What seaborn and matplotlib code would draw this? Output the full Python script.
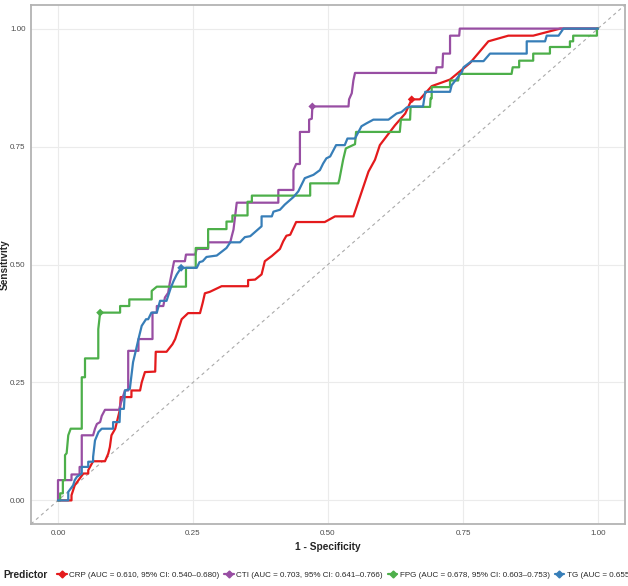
import matplotlib
matplotlib.use("Agg")
import matplotlib.pyplot as plt
from matplotlib.lines import Line2D
import seaborn as sns
import pandas as pd

# ROC curve vertices (1 - specificity, sensitivity)
crp_roc = [(0, 0), (0.025, 0), (0.025, 0.011), (0.031, 0.032), (0.047, 0.057), (0.056, 0.057),
           (0.056, 0.064), (0.065, 0.083), (0.087, 0.083), (0.093, 0.099), (0.096, 0.113),
           (0.099, 0.138), (0.106, 0.152), (0.115, 0.194), (0.116, 0.219), (0.136, 0.219),
           (0.136, 0.233), (0.152, 0.233), (0.155, 0.250), (0.161, 0.272), (0.180, 0.273),
           (0.181, 0.315), (0.201, 0.315), (0.212, 0.331), (0.217, 0.342), (0.223, 0.363),
           (0.229, 0.384), (0.241, 0.397), (0.263, 0.397), (0.268, 0.419), (0.272, 0.439),
           (0.281, 0.442), (0.303, 0.454), (0.352, 0.454), (0.352, 0.467), (0.365, 0.468),
           (0.377, 0.479), (0.383, 0.507), (0.396, 0.518), (0.411, 0.533), (0.417, 0.549),
           (0.423, 0.561), (0.430, 0.563), (0.441, 0.590), (0.494, 0.590), (0.513, 0.602),
           (0.547, 0.602), (0.575, 0.697), (0.587, 0.722), (0.596, 0.753), (0.624, 0.795),
           (0.643, 0.820), (0.655, 0.850), (0.670, 0.850), (0.692, 0.878), (0.726, 0.892),
           (0.763, 0.927), (0.797, 0.973), (0.834, 0.985), (0.880, 0.985), (0.930, 1.0), (1.0, 1.0)]

cti_roc = [(0, 0), (0, 0.043), (0.025, 0.043), (0.025, 0.055), (0.040, 0.055), (0.040, 0.071),
           (0.044, 0.071), (0.044, 0.138), (0.065, 0.138), (0.0685, 0.152), (0.072, 0.162),
           (0.078, 0.166), (0.081, 0.179), (0.087, 0.192), (0.113, 0.192), (0.115, 0.201),
           (0.124, 0.233), (0.130, 0.233), (0.130, 0.317), (0.149, 0.317), (0.149, 0.342),
           (0.175, 0.342), (0.175, 0.398), (0.183, 0.398), (0.183, 0.412), (0.195, 0.412),
           (0.198, 0.430), (0.204, 0.440), (0.207, 0.461), (0.215, 0.507), (0.235, 0.507),
           (0.237, 0.521), (0.254, 0.521), (0.257, 0.533), (0.278, 0.533), (0.278, 0.547),
           (0.319, 0.547), (0.322, 0.561), (0.325, 0.574), (0.331, 0.631), (0.408, 0.631),
           (0.408, 0.658), (0.436, 0.658), (0.436, 0.700), (0.441, 0.713), (0.448, 0.713),
           (0.448, 0.781), (0.465, 0.781), (0.465, 0.807), (0.470, 0.809), (0.471, 0.835),
           (0.538, 0.835), (0.539, 0.850), (0.544, 0.863), (0.547, 0.890), (0.550, 0.906),
           (0.700, 0.906), (0.701, 0.918), (0.712, 0.918), (0.713, 0.947), (0.726, 0.947),
           (0.726, 0.985), (0.743, 0.985), (0.744, 1.0), (1.0, 1.0)]

fpg_roc = [(0, 0), (0.004, 0), (0.004, 0.015), (0.009, 0.015), (0.009, 0.043), (0.013, 0.043),
           (0.013, 0.096), (0.016, 0.100), (0.019, 0.138), (0.0235, 0.152), (0.044, 0.152),
           (0.044, 0.261), (0.050, 0.261), (0.050, 0.301), (0.0746, 0.301), (0.0746, 0.363),
           (0.078, 0.398), (0.115, 0.398), (0.115, 0.412), (0.132, 0.412), (0.132, 0.426),
           (0.1735, 0.426), (0.1735, 0.444), (0.183, 0.453), (0.237, 0.453), (0.237, 0.493),
           (0.255, 0.493), (0.255, 0.535), (0.278, 0.535), (0.278, 0.575), (0.312, 0.575),
           (0.312, 0.591), (0.323, 0.591), (0.323, 0.604), (0.351, 0.604), (0.351, 0.633),
           (0.359, 0.633), (0.359, 0.646), (0.467, 0.646), (0.467, 0.672), (0.519, 0.672),
           (0.521, 0.680), (0.528, 0.722), (0.533, 0.746), (0.550, 0.755), (0.552, 0.781),
           (0.633, 0.781), (0.635, 0.807), (0.652, 0.807), (0.653, 0.834), (0.689, 0.834),
           (0.690, 0.852), (0.692, 0.852), (0.692, 0.876), (0.726, 0.876), (0.726, 0.890),
           (0.741, 0.890), (0.743, 0.904), (0.840, 0.904), (0.842, 0.918), (0.854, 0.918),
           (0.854, 0.932), (0.880, 0.932), (0.880, 0.947), (0.911, 0.947), (0.911, 0.961),
           (0.948, 0.961), (0.948, 0.973), (0.954, 0.973), (0.954, 0.985), (0.998, 0.985),
           (0.998, 1.0), (1.0, 1.0)]

tg_roc = [(0, 0), (0.019, 0), (0.019, 0.018), (0.028, 0.032), (0.031, 0.043), (0.035, 0.050),
          (0.044, 0.057), (0.044, 0.071), (0.056, 0.071), (0.056, 0.082), (0.065, 0.082),
          (0.065, 0.092), (0.0685, 0.127), (0.075, 0.145), (0.081, 0.152), (0.102, 0.152),
          (0.102, 0.166), (0.114, 0.166), (0.115, 0.194), (0.122, 0.194), (0.124, 0.233),
          (0.133, 0.236), (0.139, 0.293), (0.144, 0.317), (0.149, 0.342), (0.155, 0.370),
          (0.163, 0.384), (0.167, 0.384), (0.173, 0.398), (0.183, 0.398), (0.189, 0.423),
          (0.201, 0.423), (0.209, 0.451), (0.214, 0.465), (0.220, 0.479), (0.228, 0.493),
          (0.257, 0.493), (0.262, 0.505), (0.268, 0.507), (0.275, 0.516), (0.294, 0.519),
          (0.312, 0.535), (0.319, 0.547), (0.337, 0.547), (0.346, 0.558), (0.356, 0.560),
          (0.377, 0.581), (0.377, 0.602), (0.396, 0.602), (0.399, 0.612), (0.411, 0.616),
          (0.420, 0.627), (0.436, 0.643), (0.445, 0.655), (0.457, 0.683), (0.473, 0.690),
          (0.485, 0.700), (0.491, 0.714), (0.497, 0.725), (0.504, 0.729), (0.515, 0.753),
          (0.531, 0.753), (0.536, 0.767), (0.550, 0.767), (0.562, 0.793), (0.571, 0.799),
          (0.584, 0.807), (0.612, 0.807), (0.627, 0.820), (0.636, 0.823), (0.646, 0.833),
          (0.655, 0.835), (0.676, 0.835), (0.680, 0.866), (0.726, 0.866), (0.729, 0.880),
          (0.748, 0.908), (0.751, 0.918), (0.766, 0.931), (0.788, 0.931), (0.800, 0.947),
          (0.868, 0.947), (0.868, 0.973), (0.902, 0.973), (0.905, 0.985), (0.927, 0.985),
          (0.936, 1.0), (1.0, 1.0)]

predictors = ["CRP", "CTI", "FPG", "TG"]
auc_values = ["0.610", "0.703", "0.678", "0.655"]
ci_low = ["0.540", "0.641", "0.603", "0.585"]
ci_high = ["0.680", "0.766", "0.753", "0.725"]
# optimal cut-off points drawn on each curve
cut_fpr = [0.655, 0.471, 0.078, 0.228]
cut_tpr = [0.850, 0.835, 0.398, 0.493]
colors = ["#E41A1C", "#984EA3", "#4DAF4A", "#377EB8"]

rows = []
for name, pts in zip(predictors, [crp_roc, cti_roc, fpg_roc, tg_roc]):
    for i, (x, y) in enumerate(pts):
        rows.append({"Predictor": name, "order": i, "fpr": x, "tpr": y})
roc_df = pd.DataFrame(rows)
cut_df = pd.DataFrame({"Predictor": predictors, "fpr": cut_fpr, "tpr": cut_tpr})

sns.set_theme(style="white")
plt.rcParams["font.family"] = ["Liberation Sans", "DejaVu Sans"]

fig = plt.figure(figsize=(6.28, 5.86), dpi=100)
ax = fig.add_axes([31 / 628, 1 - 524 / 586, 594 / 628, 519 / 586])

palette = dict(zip(predictors, colors))
ax.plot([-0.05, 1.05], [-0.05, 1.05], color="#aaaaaa", lw=0.8, ls=(0, (3, 3)), zorder=1)
sns.lineplot(data=roc_df, x="fpr", y="tpr", hue="Predictor", units="Predictor",
             estimator=None, sort=False, palette=palette, lw=1.6, legend=False, ax=ax, zorder=3)
sns.scatterplot(data=cut_df, x="fpr", y="tpr", hue="Predictor", palette=palette,
                marker="D", s=16, linewidth=0, legend=False, ax=ax, zorder=4)

ax.set_xlim(-0.05, 1.05)
ax.set_ylim(-0.05, 1.05)
ticks = [0, 0.25, 0.5, 0.75, 1.0]
ax.set_xticks(ticks)
ax.set_yticks(ticks)
ax.set_xticklabels(["0.00", "0.25", "0.50", "0.75", "1.00"])
ax.set_yticklabels(["0.00", "0.25", "0.50", "0.75", "1.00"])
ax.grid(True, color="#ebebeb", lw=0.8)
ax.set_axisbelow(True)
for sp in ax.spines.values():
    sp.set_color("#b3b3b3")
    sp.set_linewidth(1.3)
ax.tick_params(axis="both", length=2.5, width=0.8, color="#888888",
               labelsize=5.8, labelcolor="#4d4d4d", pad=1.5)
ax.set_xlabel("1 - Specificity", fontsize=7.3, fontweight="bold")
ax.set_ylabel("Sensitivity", fontsize=7.3, fontweight="bold")
ax.xaxis.set_label_coords(0.5, -(542 - 524) / 519)
ax.yaxis.set_label_coords(-(31 - 9.5) / 594, 0.5)

handles = [Line2D([], [], color=c, lw=1.6, marker="D", ms=3.5) for c in colors]
labels = [f"{p} (AUC = {a}, 95% CI: {lo}\u2013{hi})"
          for p, a, lo, hi in zip(predictors, auc_values, ci_low, ci_high)]
fig.text(3 / 628, 1 - 575 / 586, "Predictor", fontsize=7.3, fontweight="bold", va="center")
fig.legend(handles, labels, ncol=4, loc="center left", bbox_to_anchor=(57 / 628, 1 - 575 / 586),
           frameon=False, fontsize=5.8, handlelength=1.2, handletextpad=0.3,
           columnspacing=0.6, borderpad=0, borderaxespad=0)

fig.savefig("out.png", dpi=100)
